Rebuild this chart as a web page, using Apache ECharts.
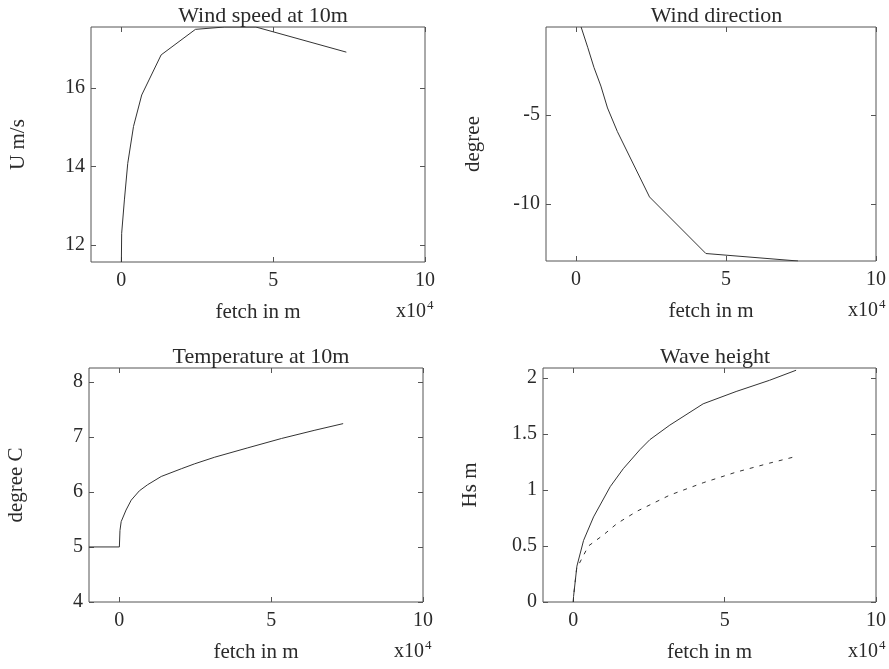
<!DOCTYPE html>
<html>
<head>
<meta charset="utf-8">
<script src="https://cdn.jsdelivr.net/npm/echarts@6/dist/echarts.min.js"></script>
<style>
  html, body { margin: 0; padding: 0; background: #fff; }
  #chart { width: 889px; height: 669px; }
</style>
</head>
<body>
<div id="chart"></div>
<script>
// Fetch distances in metres; the x axes are labelled in units of 10^4 m.
const fetchTicks = [0, 50000, 100000];

// Wind speed at 10 m (m/s)
const speedFetch = [0, 100, 1000, 2100, 4000, 6700, 13100, 24400, 34000, 44300, 74100];
const speedU     = [11.57, 12.3, 13.15, 14.08, 15.02, 15.82, 16.84, 17.49, 17.55, 17.55, 16.91];

// Wind direction (degree)
const dirFetch = [1700, 3900, 6000, 8300, 10500, 13800, 24500, 43300, 74000];
const dirDeg   = [-0.05, -1.19, -2.33, -3.37, -4.6, -5.93, -9.6, -12.78, -13.2];

// Temperature at 10 m (degree C)
const tempFetch = [-10000, 0, 200, 600, 2200, 3900, 6600, 9300, 13800, 20400, 24800, 31400, 42300, 53400, 64400, 73700];
const tempC     = [5, 5, 5.3, 5.46, 5.67, 5.85, 6.02, 6.13, 6.28, 6.42, 6.51, 6.63, 6.8, 6.97, 7.12, 7.24];

// Significant wave height (m): solid and dashed curves
const waveFetch  = [0, 100, 1200, 3400, 6700, 12200, 16500, 22000, 25300, 31900, 42900, 53800, 64800, 73600];
const waveHs     = [0, 0.05, 0.32, 0.55, 0.76, 1.03, 1.19, 1.36, 1.45, 1.58, 1.77, 1.88, 1.98, 2.07];
const wave2Fetch = [0, 100, 1200, 2000, 5000, 10000, 14400, 21000, 31900, 42900, 53800, 64800, 73600];
const wave2Hs    = [0, 0.05, 0.32, 0.345, 0.5, 0.6, 0.7, 0.81, 0.955, 1.065, 1.16, 1.24, 1.30];

const titles  = ['Wind speed at 10m', 'Wind direction', 'Temperature at 10m', 'Wave height'];
const yNames  = ['U m/s', 'degree', 'degree C', 'Hs m'];
const yRanges = [[11.57, 17.55], [-13.2, -0.05], [4, 8.25], [0, 2.09]];
const yTicks  = [[12, 14, 16], [-10, -5], [4, 5, 6, 7, 8], [0, 0.5, 1, 1.5, 2]];

const FONT = '"Liberation Serif", "DejaVu Serif", serif';
const INK = '#2a2a2a';
const FRAME = '#555';

// panel boxes in pixels: left, top, width, height
const boxes = [
  [91, 27, 334, 235],
  [546, 27, 331, 234],
  [89, 368, 334, 234],
  [543, 368, 334, 234]
];

const grid = boxes.map(b => ({
  left: b[0], top: b[1], width: b[2], height: b[3],
  show: true, borderColor: FRAME, borderWidth: 1, backgroundColor: 'transparent'
}));

const tick = vals => ({ show: true, inside: true, length: 5, customValues: vals, lineStyle: { color: FRAME, width: 1 } });
const noLine = { show: false, onZero: false };

const xAxis = [];
const yAxis = [];
boxes.forEach((b, i) => {
  xAxis.push({
    type: 'value', gridIndex: i, position: 'bottom', min: -10000, max: 100000,
    axisLine: noLine, splitLine: { show: false },
    axisTick: tick(fetchTicks),
    axisLabel: {
      customValues: fetchTicks, formatter: v => String(v / 10000),
      fontFamily: FONT, fontSize: 20, color: INK, margin: 9
    },
    name: 'fetch in m', nameLocation: 'middle', nameGap: 40,
    nameTextStyle: { fontFamily: FONT, fontSize: 21, color: INK }
  });
  xAxis.push({
    type: 'value', gridIndex: i, position: 'top', min: -10000, max: 100000,
    axisLine: noLine, splitLine: { show: false },
    axisTick: tick(fetchTicks), axisLabel: { show: false }
  });
  yAxis.push({
    type: 'value', gridIndex: i, position: 'left', min: yRanges[i][0], max: yRanges[i][1],
    axisLine: noLine, splitLine: { show: false },
    axisTick: tick(yTicks[i]),
    axisLabel: {
      customValues: yTicks[i], fontFamily: FONT, fontSize: 20, color: INK, margin: 6
    },
    name: yNames[i], nameLocation: 'middle', nameRotate: 90, nameGap: 62,
    nameTextStyle: { fontFamily: FONT, fontSize: 21, color: INK }
  });
  yAxis.push({
    type: 'value', gridIndex: i, position: 'right', min: yRanges[i][0], max: yRanges[i][1],
    axisLine: noLine, splitLine: { show: false },
    axisTick: tick(yTicks[i]), axisLabel: { show: false }
  });
});

const zip = (xs, ys) => xs.map((x, k) => [x, ys[k]]);
const lineSeries = (panel, xs, ys, dashed) => ({
  type: 'line', xAxisIndex: panel * 2, yAxisIndex: panel * 2,
  data: zip(xs, ys), showSymbol: false, symbol: 'none', smooth: false,
  clip: true, animation: false,
  lineStyle: { color: '#333', width: 1, type: dashed ? [4, 6] : 'solid' }
});

const series = [
  lineSeries(0, speedFetch, speedU),
  lineSeries(1, dirFetch, dirDeg),
  lineSeries(2, tempFetch, tempC),
  lineSeries(3, waveFetch, waveHs),
  lineSeries(3, wave2Fetch, wave2Hs, true)
];

const title = boxes.map((b, i) => ({
  text: titles[i], left: b[0] + b[2] / 2, top: b[1] - 27, textAlign: 'center',
  textStyle: { fontFamily: FONT, fontSize: 22, fontWeight: 'normal', color: INK }
}));

// "x10^4" exponent note beside each x-axis name
const graphic = [];
boxes.forEach(b => {
  const right = b[0] + b[2];
  const y = b[1] + b[3] + 50;
  graphic.push({
    type: 'text', x: right + 1, y: y,
    style: { text: 'x10', font: '20px ' + FONT, fill: INK, align: 'right', verticalAlign: 'middle' }
  });
  graphic.push({
    type: 'text', x: right + 2, y: y - 6,
    style: { text: '4', font: '13px ' + FONT, fill: INK, align: 'left', verticalAlign: 'middle' }
  });
});

const chart = echarts.init(document.getElementById('chart'), null, { renderer: 'canvas' });
chart.setOption({
  backgroundColor: '#fff',
  animation: false,
  title, grid, xAxis, yAxis, series, graphic
});
</script>
</body>
</html>
